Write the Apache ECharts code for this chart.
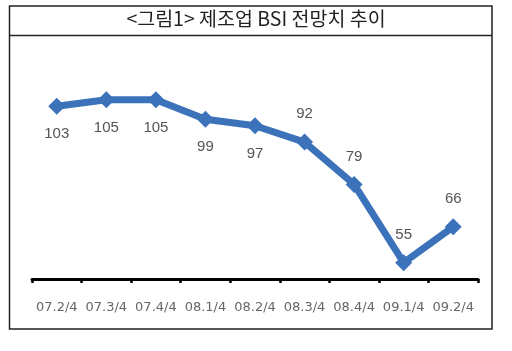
<!DOCTYPE html>
<html><head><meta charset="utf-8">
<script src="https://cdn.jsdelivr.net/npm/echarts@6/dist/echarts.min.js"></script>
<style>html,body{margin:0;padding:0;background:#fff}#c{width:512px;height:351px}</style>
</head><body><div id="c"></div>
<script>
const categories = ['07.2/4','07.3/4','07.4/4','08.1/4','08.2/4','08.3/4','08.4/4','09.1/4','09.2/4'];
const bsiValues = [103,105,105,99,97,92,79,55,66];
const labelBelow = [true,true,true,true,true,false,false,false,false];
const titleText = '<그림1> 제조업 BSI 전망치 추이';

const chart = echarts.init(document.getElementById('c'), null, {renderer:'canvas'});
chart.setOption({
  animation:false,
  backgroundColor:'#fff',
  graphic:[
    {type:'rect', shape:{x:9.5,y:6,width:482.5,height:323}, style:{fill:'none',stroke:'#222',lineWidth:1.5}},
    {type:'line', shape:{x1:9.5,y1:35.5,x2:492,y2:35.5}, style:{stroke:'#222',lineWidth:1.5}},
    {type:'text', left:'center', top:9, style:{text:titleText, font:'19.5px "Noto Sans CJK KR"', fill:'#222'}}
  ],
  grid:{left:32, right:34, top:50.8, bottom:72},
  xAxis:{type:'category', data:categories, boundaryGap:true,
    axisLine:{lineStyle:{color:'#000',width:3}},
    axisTick:{show:true,length:4,lineStyle:{color:'#000',width:2.5}},
    axisLabel:{interval:0,hideOverlap:false,color:'#666',fontSize:13,fontFamily:'DejaVu Sans',margin:22}},
  yAxis:{type:'value', min:50, max:120, show:false, splitLine:{show:false}},
  series:[{
    type:'line', data:bsiValues.map((v,i)=>({value:v,label:{position:labelBelow[i]?'bottom':'top',distance:12}})),
    symbol:'diamond', symbolSize:17,
    lineStyle:{color:'#3b72ba',width:7},
    itemStyle:{color:'#3b72ba'},
    label:{show:true,color:'#555',fontSize:15,fontFamily:'Liberation Sans'}
  }]
});
</script></body></html>
